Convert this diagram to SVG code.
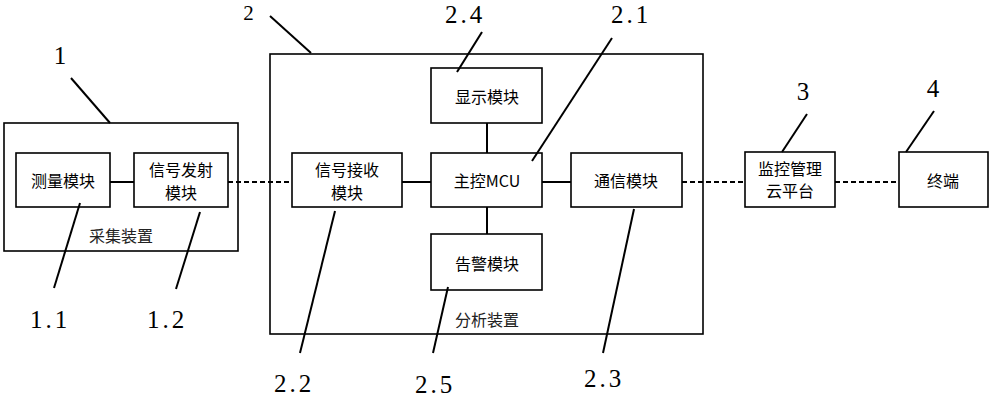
<svg xmlns="http://www.w3.org/2000/svg" width="995" height="400" viewBox="0 0 995 400">
<style>
.box{fill:#fff;stroke:#000;stroke-width:1.6}
.frame{fill:none;stroke:#000;stroke-width:1.6}
.t{font-family:"Noto Sans CJK SC","Noto Sans",sans-serif;font-size:16px;fill:#000;text-anchor:middle;dominant-baseline:central}
.cap{font-family:"Noto Sans CJK SC","Noto Sans",sans-serif;font-size:16px;fill:#222;text-anchor:middle;dominant-baseline:central}
.n{font-family:"Liberation Serif","DejaVu Serif",serif;font-size:25px;fill:#000;text-anchor:middle}
.num{letter-spacing:3px}
.ld{stroke:#000;stroke-width:2;fill:none}
.c{stroke:#000;stroke-width:2;fill:none}
.d{stroke:#000;stroke-width:2;fill:none;stroke-dasharray:5 3}
</style>
<rect x="0" y="0" width="995" height="400" fill="#fff"/>
<g id="device1">
<rect class="frame" x="4" y="123" width="234" height="128"/>
<text class="cap" x="121" y="235">采集装置</text>
</g>
<g id="device2">
<rect class="frame" x="270" y="54" width="433" height="280"/>
<text class="cap" x="487" y="319">分析装置</text>
</g>
<g id="connectors">
<line class="c" x1="110" y1="182" x2="134" y2="182"/>
<line class="d" x1="228" y1="182" x2="292" y2="182"/>
<line class="c" x1="402" y1="182" x2="431" y2="182"/>
<line class="c" x1="542" y1="182" x2="571" y2="182"/>
<line class="c" x1="487" y1="123" x2="487" y2="153"/>
<line class="c" x1="487" y1="207" x2="487" y2="234"/>
<line class="d" x1="682" y1="182" x2="745" y2="182"/>
<line class="d" x1="835" y1="182" x2="899" y2="182"/>
</g>
<g id="m11">
<rect class="box" x="16" y="153" width="94" height="54"/>
<text class="t" x="63" y="180">测量模块</text>
</g>
<g id="m12">
<rect class="box" x="134" y="153" width="94" height="54"/>
<text class="t" x="181" y="169">信号发射</text>
<text class="t" x="181" y="192">模块</text>
</g>
<g id="m22">
<rect class="box" x="292" y="153" width="110" height="54"/>
<text class="t" x="347" y="169">信号接收</text>
<text class="t" x="347" y="192">模块</text>
</g>
<g id="m24">
<rect class="box" x="431" y="68" width="111" height="55"/>
<text class="t" x="487" y="96">显示模块</text>
</g>
<g id="m21">
<rect class="box" x="431" y="153" width="111" height="54"/>
<text class="t" x="487" y="180">主控MCU</text>
</g>
<g id="m25">
<rect class="box" x="431" y="234" width="111" height="56"/>
<text class="t" x="487" y="263">告警模块</text>
</g>
<g id="m23">
<rect class="box" x="571" y="153" width="111" height="54"/>
<text class="t" x="626" y="180">通信模块</text>
</g>
<g id="m3">
<rect class="box" x="745" y="152" width="90" height="55"/>
<text class="t" x="790" y="168">监控管理</text>
<text class="t" x="790" y="190">云平台</text>
</g>
<g id="m4">
<rect class="box" x="899" y="152" width="89" height="55"/>
<text class="t" x="943" y="180">终端</text>
</g>
<g id="leaders">
<line class="ld" x1="71" y1="78" x2="110" y2="123"/>
<line class="ld" x1="270" y1="16" x2="311" y2="53"/>
<line class="ld" x1="80" y1="203" x2="54" y2="288"/>
<line class="ld" x1="200" y1="212" x2="176" y2="289"/>
<line class="ld" x1="482" y1="32" x2="457" y2="72"/>
<line class="ld" x1="612" y1="38" x2="532" y2="161"/>
<line class="ld" x1="335" y1="211" x2="300" y2="353"/>
<line class="ld" x1="448" y1="287" x2="433" y2="353"/>
<line class="ld" x1="634" y1="209" x2="603" y2="353"/>
<line class="ld" x1="807" y1="114" x2="782" y2="152"/>
<line class="ld" x1="934" y1="111" x2="906" y2="152"/>
</g>
<g id="labels">
<text class="n" x="60" y="64">1</text>
<text class="n" x="248.5" y="20" style="font-size:21px">2</text>
<text class="n" x="803" y="100">3</text>
<text class="n" x="933" y="97">4</text>
<text class="n num" x="50" y="328">1.1</text>
<text class="n num" x="167" y="328">1.2</text>
<text class="n num" x="465" y="23">2.4</text>
<text class="n num" x="631" y="23">2.1</text>
<text class="n num" x="294" y="392">2.2</text>
<text class="n num" x="435" y="393">2.5</text>
<text class="n num" x="604" y="387">2.3</text>
</g>
</svg>
